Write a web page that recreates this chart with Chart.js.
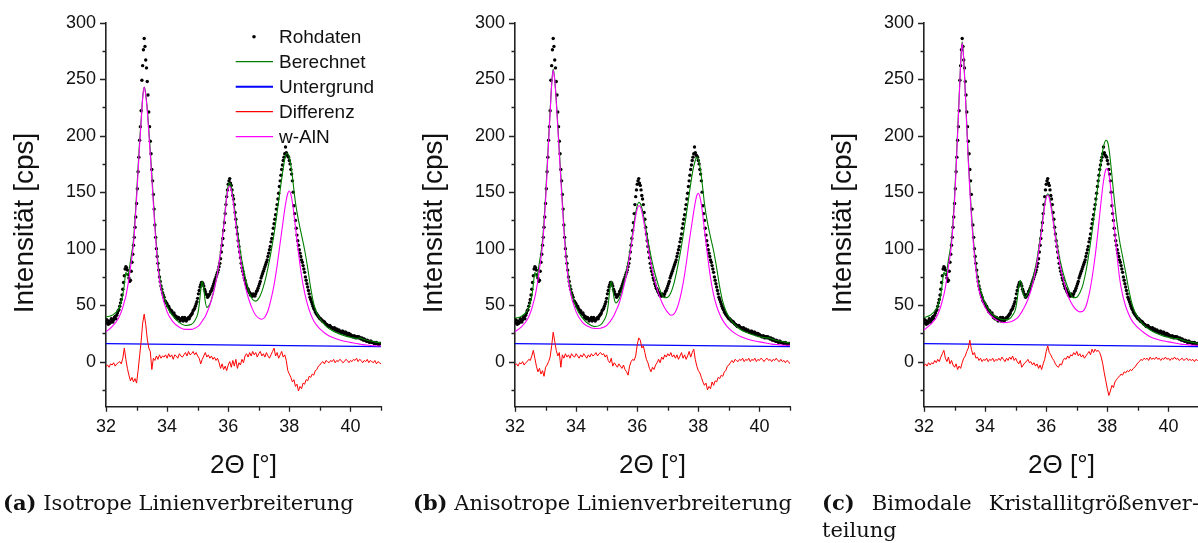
<!DOCTYPE html>
<html><head><meta charset="utf-8">
<script src="https://cdn.jsdelivr.net/npm/chart.js@4.4.0/dist/chart.umd.min.js"></script>
<style>
html,body{margin:0;padding:0}
body{width:1198px;height:543px;overflow:hidden;background:#fff;position:relative}
canvas{position:absolute;top:0}
.cap{position:absolute;font-family:'DejaVu Serif',serif;font-size:21px;line-height:27px;color:#111;white-space:nowrap}
.cap b{font-weight:bold}
</style></head><body>
<canvas id="pa" width="409" height="490" style="left:0px"></canvas>
<canvas id="pb" width="409" height="490" style="left:409px"></canvas>
<canvas id="pc" width="409" height="490" style="left:818px"></canvas>
<div class="cap" style="left:3px;top:489px"><b>(a)</b> Isotrope Linienverbreiterung</div>
<div class="cap" style="left:413px;top:489px"><b>(b)</b> Anisotrope Linienverbreiterung</div>
<div class="cap" style="left:822px;top:489px;width:377px;white-space:normal">
<div style="text-align:justify;text-align-last:justify"><b>(c)</b> Bimodale Kristallitgrößenver-</div>
<div>teilung</div></div>
<script>
// ---------- texts ----------
const seriesNames = ['Rohdaten','Berechnet','Untergrund','Differenz','w-AlN'];
const xTitle = '2\u0398 [\u00b0]';
const yTitle = 'Intensit\u00e4t [cps]';
// ---------- ticks ----------
const xTickVals = [32,33,34,35,36,37,38,39,40,41];
const xTickLabels = [32,34,36,38,40];
const yTickVals = [-25,0,25,50,75,100,125,150,175,200,225,250,275,300];
const yTickLabels = [0,50,100,150,200,250,300];

// ---------- raw data (2Theta, cps), one row per degree ----------
const rawX = [
32,32.025,32.05,32.075,32.1,32.125,32.15,32.175,32.2,32.225,32.25,32.275,32.3,32.325,32.35,32.375,32.4,32.425,32.45,32.475,32.5,32.525,32.55,32.575,32.6,32.625,32.65,32.675,32.7,32.725,32.75,32.775,32.8,32.825,32.85,32.875,32.9,32.925,32.95,32.975,
33,33.025,33.05,33.075,33.1,33.125,33.15,33.175,33.2,33.225,33.25,33.275,33.3,33.325,33.35,33.375,33.4,33.425,33.45,33.475,33.5,33.525,33.55,33.575,33.6,33.625,33.65,33.675,33.7,33.725,33.75,33.775,33.8,33.825,33.85,33.875,33.9,33.925,33.95,33.975,
34,34.025,34.05,34.075,34.1,34.125,34.15,34.175,34.2,34.225,34.25,34.275,34.3,34.325,34.35,34.375,34.4,34.425,34.45,34.475,34.5,34.525,34.55,34.575,34.6,34.625,34.65,34.675,34.7,34.725,34.75,34.775,34.8,34.825,34.85,34.875,34.9,34.925,34.95,34.975,
35,35.025,35.05,35.075,35.1,35.125,35.15,35.175,35.2,35.225,35.25,35.275,35.3,35.325,35.35,35.375,35.4,35.425,35.45,35.475,35.5,35.525,35.55,35.575,35.6,35.625,35.65,35.675,35.7,35.725,35.75,35.775,35.8,35.825,35.85,35.875,35.9,35.925,35.95,35.975,
36,36.025,36.05,36.075,36.1,36.125,36.15,36.175,36.2,36.225,36.25,36.275,36.3,36.325,36.35,36.375,36.4,36.425,36.45,36.475,36.5,36.525,36.55,36.575,36.6,36.625,36.65,36.675,36.7,36.725,36.75,36.775,36.8,36.825,36.85,36.875,36.9,36.925,36.95,36.975,
37,37.025,37.05,37.075,37.1,37.125,37.15,37.175,37.2,37.225,37.25,37.275,37.3,37.325,37.35,37.375,37.4,37.425,37.45,37.475,37.5,37.525,37.55,37.575,37.6,37.625,37.65,37.675,37.7,37.725,37.75,37.775,37.8,37.825,37.85,37.875,37.9,37.925,37.95,37.975,
38,38.025,38.05,38.075,38.1,38.125,38.15,38.175,38.2,38.225,38.25,38.275,38.3,38.325,38.35,38.375,38.4,38.425,38.45,38.475,38.5,38.525,38.55,38.575,38.6,38.625,38.65,38.675,38.7,38.725,38.75,38.775,38.8,38.825,38.85,38.875,38.9,38.925,38.95,38.975,
39,39.025,39.05,39.075,39.1,39.125,39.15,39.175,39.2,39.225,39.25,39.275,39.3,39.325,39.35,39.375,39.4,39.425,39.45,39.475,39.5,39.525,39.55,39.575,39.6,39.625,39.65,39.675,39.7,39.725,39.75,39.775,39.8,39.825,39.85,39.875,39.9,39.925,39.95,39.975,
40,40.025,40.05,40.075,40.1,40.125,40.15,40.175,40.2,40.225,40.25,40.275,40.3,40.325,40.35,40.375,40.4,40.425,40.45,40.475,40.5,40.525,40.55,40.575,40.6,40.625,40.65,40.675,40.7,40.725,40.75,40.775,40.8,40.825,40.85,40.875,40.9,40.925,40.95,40.975,
41];
const rawY = [
35,37,34,33,36,34,35,38,37,35,37,39,40,38,41,43,45,46,49,52,55,59,64,70,76,82,84,83,81,77,74,71,72,80,88,95,103,110,119,128,
140,153,168,181,196,208,222,249,262,276,286,279,267,260,248,236,221,208,195,184,170,160,148,135,121,110,100,93,87,81,75,71,67,64,61,59,57,54,53,52,
51,49,49,47,46,44,45,43,42,43,41,39,40,38,38,39,38,36,37,38,39,36,37,39,38,36,37,38,39,38,40,41,42,43,45,46,47,49,51,53,
56,60,63,66,68,70,70,69,67,64,62,60,59,57,58,59,60,62,63,65,67,69,71,73,75,77,79,81,84,87,91,97,103,109,116,123,131,139,146,152,
157,160,162,158,156,152,147,144,139,132,126,119,113,107,102,97,92,87,83,80,77,74,72,69,67,65,64,62,61,59,60,58,58,60,59,58,60,62,63,65,
67,69,71,74,76,78,80,82,84,86,88,90,93,96,99,102,106,109,113,118,122,126,130,135,139,144,149,155,160,165,170,174,178,181,184,190,185,183,182,181,
178,175,170,166,160,150,138,131,125,118,112,107,103,99,96,93,90,88,85,82,79,75,72,69,66,63,60,57,55,53,51,49,47,46,44,43,42,41,40,39,
38,38,37,36,36,35,35,34,33,33,32,31,31,32,31,30,30,29,29,30,28,28,29,27,27,28,27,26,26,27,27,25,25,26,26,24,24,25,25,23,
24,23,23,22,22,23,22,21,22,22,21,22,21,21,20,21,20,19,20,19,19,18,19,18,18,17,18,18,17,17,17,16,17,16,17,16,16,15,16,16,
16];

// ---------- background ----------
const bgX = [32,41];
const bgY = [16,13.3];

// ---------- fitted curves (shared 2Theta nodes) ----------
const fitX = [32,32.2,32.4,32.5,32.55,32.6,32.65,32.7,32.75,32.8,
32.9,33,33.05,33.1,33.15,33.2,33.25,33.3,33.35,33.4,
33.45,33.5,33.6,33.7,33.8,34,34.2,34.4,34.6,34.8,
34.9,35,35.05,35.1,35.15,35.2,35.25,35.3,35.4,35.5,
35.6,35.7,35.8,35.9,35.95,36,36.05,36.1,36.15,36.2,
36.3,36.4,36.5,36.6,36.7,36.8,36.9,37,37.1,37.2,
37.3,37.4,37.5,37.6,37.7,37.8,37.85,37.9,37.95,38,
38.05,38.1,38.15,38.2,38.3,38.4,38.5,38.6,38.7,38.8,
38.9,39,39.2,39.4,39.6,39.8,40,40.2,40.3,40.4,
40.6,40.8,41];

const calcA = [39.5,41,46,53,59,68,79,76,80,89,
108,148,172,195,214,234,243,237,224,206,
186,166,122,88,68,49,40,34.5,32,33,
36,42,50,63,71,64,53,48,51,60,
72,88,108,134,147,156,158,155,147,137,
116,97,82,69,60,55,53.5,56,62,71,
83,97,113,132,152,171,179,184,184,181,
174,164,152,141,125,112,99,83,65,51,
43,38,31.5,27.5,25,23,21.5,20.5,21,20,
18.5,17.5,16.5];
const alnA = [26.5,31,38,44,48,53,58,65,73,83,
104,144,168,192,212,233,243,236,222,203,
183,162,118,84,64,44,35,30.5,28.5,28.5,
29.5,31,32,34,36,38,40,43,50,59,
71,87,107,132,145,153,155,152,144,133,
110,90,74,62,53,46,41,38.5,37.5,39.5,
45,55,68,85,105,125,135,143,149,151,
148,141,131,119,96,76,61,50,42,36,
32,29,24.5,21.5,19.5,18,17,16,15.5,15,
14.5,14,13.8];

const calcB = [38.5,40,45,52,58,68,79,75,79,88,
107,146,172,198,222,246,259,250,232,210,
187,165,120,87,67,48,39,33.5,31,32.5,
36,42,50,63,71,64,55,52,55,63,
74,88,105,123,132,138,141,140,136,130,
115,100,87,76,67,60,56.5,57,61,69,
81,95,111,129,148,166,173,178,181,179,
173,164,152,140,123,110,98,83,66,53,
45,39.5,32.5,28,25.5,23.5,22,21,21,20,
18.5,17.5,16.5];
const alnB = [26.5,30.5,37,43,47,52,57,64,72,82,
103,142,168,195,220,245,258,249,230,207,
184,161,116,83,63,44,35,31,29.3,29.5,
30.5,32,33.5,35,37,39,41.5,44.5,51,60,
71,85,102,120,129,135,138,137,133,126,
110,94,80,69,60,53,47.5,43.5,41,42,
47,56,69,86,106,124,133,141,147,149,
146,139,129,117,94,74,59,49,42,36.5,
32.5,29.5,25,22,20,18.5,17.5,16.5,16,15.5,
15,14.5,14.5];

const calcC = [39,41,46.5,53,59,69,79,77,81,90,
108,146,174,204,234,265,283,268,240,210,
180,155,114,85,68,52,43,39,37,38,
41,47,55,66,72,67,60,57,60,67,
78,91,109,130,140,146,148.5,146,140,132,
113,97,84,74,66,60,56.5,57,61,68,
80,96,115,136,158,178,187,193,196,195,
189,178,165,151,126,107,93,79,64,52,
44,39,32,28,25,23,21.5,20.5,20.5,19.5,
18,17,16];
const alnC = [28,32.5,39,45,49,54,59,66,74,84,
104,142,170,201,232,264,282,267,238,207,
177,151,110,81,63,48,40.5,36.5,34.5,35,
36,37.5,38.5,40,42,44,46.5,49,55,63,
74,88,106,127,138,145,147.5,145,138,129,
110,93,79,68,59,53,48.5,45.5,44,44.5,
49,59,74,93,117,143,155,164,170,171,
166,156,142,127,99,74,59,49,42,36.5,
33,30,25.5,22,20,18.5,17.5,16.5,16,15.5,
15,14.5,14.5];

// ---------- difference curves (0.05 deg grid) ----------
const diffX = [32,32.05,32.1,32.15,32.2,32.25,32.3,32.35,32.4,32.45,32.5,32.55,32.6,32.65,32.7,32.75,32.8,32.85,32.9,32.95,
33,33.05,33.1,33.15,33.2,33.25,33.3,33.35,33.4,33.45,33.5,33.55,33.6,33.65,33.7,33.75,33.8,33.85,33.9,33.95,
34,34.05,34.1,34.15,34.2,34.25,34.3,34.35,34.4,34.45,34.5,34.55,34.6,34.65,34.7,34.75,34.8,34.85,34.9,34.95,
35,35.05,35.1,35.15,35.2,35.25,35.3,35.35,35.4,35.45,35.5,35.55,35.6,35.65,35.7,35.75,35.8,35.85,35.9,35.95,
36,36.05,36.1,36.15,36.2,36.25,36.3,36.35,36.4,36.45,36.5,36.55,36.6,36.65,36.7,36.75,36.8,36.85,36.9,36.95,
37,37.05,37.1,37.15,37.2,37.25,37.3,37.35,37.4,37.45,37.5,37.55,37.6,37.65,37.7,37.75,37.8,37.85,37.9,37.95,
38,38.05,38.1,38.15,38.2,38.25,38.3,38.35,38.4,38.45,38.5,38.55,38.6,38.65,38.7,38.75,38.8,38.85,38.9,38.95,
39,39.05,39.1,39.15,39.2,39.25,39.3,39.35,39.4,39.45,39.5,39.55,39.6,39.65,39.7,39.75,39.8,39.85,39.9,39.95,
40,40.05,40.1,40.15,40.2,40.25,40.3,40.35,40.4,40.45,40.5,40.55,40.6,40.65,40.7,40.75,40.8,40.85,40.9,40.95,
41];
const diffA = [-4,-3,-5,-2,-3,-1,-4,-2,-1,0,-2,3,12,2,-6,-12,-17,-14,-18,-15,
-19,-8,5,18,34,42,33,20,12,9,-7,3,1,5,2,6,3,5,4,6,
3,7,4,6,2,6,5,3,7,5,4,6,8,5,9,6,7,9,6,8,
5,3,-2,2,5,8,4,6,3,5,2,4,1,3,-1,-6,-2,-7,-4,-8,
-3,0,-5,1,-4,2,-6,-1,-3,2,-1,5,7,4,8,5,9,6,8,4,
7,9,5,7,4,8,5,3,6,9,12,5,8,3,6,9,4,6,1,-8,
-11,-14,-18,-16,-22,-20,-26,-22,-24,-19,-20,-16,-17,-13,-14,-11,-12,-8,-7,-4,
-3,-1,0,-2,1,0,-1,1,0,2,-1,1,0,2,1,-1,0,2,1,-1,
1,0,2,1,3,0,2,1,-1,1,0,2,-1,1,0,-1,1,-2,0,-1,
-2];
const diffB = [-3,-2,-4,-1,-2,0,-3,-1,0,2,1,5,10,3,-4,-9,-6,-11,-8,-13,
-5,-3,0,4,14,26,18,10,5,8,-5,6,3,7,4,6,3,7,5,4,
7,5,3,6,4,7,5,3,6,4,7,5,6,8,5,7,8,6,7,4,
6,1,-1,3,-4,-1,-3,-5,-2,-4,-6,-3,-7,-9,-12,-4,0,2,1,5,
15,21,19,12,14,8,2,-1,-6,-9,-5,-7,-3,-1,2,-1,4,2,6,4,
7,5,8,4,6,3,6,2,5,8,3,6,2,5,9,4,8,11,2,-4,
-8,-10,-14,-18,-21,-19,-25,-22,-24,-18,-21,-17,-18,-14,-15,-12,-13,-9,-8,-4,
-3,-1,1,-1,2,1,0,2,1,3,0,2,1,3,0,2,1,3,0,2,
1,3,2,0,2,3,1,2,0,2,1,3,1,0,2,0,1,-1,1,0,
-2];
const diffC = [-4,-2,-4,-1,-3,-1,-2,1,-1,2,0,4,7,10,3,0,4,-2,1,-3,
-5,-2,-7,-4,-6,-1,3,5,9,12,19,11,6,8,3,4,1,3,0,2,
1,3,0,2,1,3,0,2,1,3,1,4,2,0,3,1,4,2,5,1,
3,0,-2,1,-5,-3,-1,0,2,-1,0,-3,-1,-4,-2,-6,-3,-7,-2,2,
9,14,8,6,3,1,-2,-4,-5,-2,-3,1,3,2,5,3,6,5,8,6,
9,5,7,4,6,3,5,7,9,6,11,8,11,9,10,8,4,-2,-10,-17,
-24,-30,-26,-21,-23,-18,-16,-14,-13,-11,-12,-9,-10,-8,-9,-7,-8,-6,-5,-3,
-1,0,2,1,3,2,3,1,4,2,3,2,4,2,3,1,3,2,4,2,
3,1,3,2,4,2,3,1,2,3,1,2,3,1,2,1,2,0,2,1,
2];

// ---------- rendering ----------
const FONT = "'Liberation Sans', Arial, sans-serif";
const pts = (xs, ys) => xs.map((x, i) => ({x: x, y: ys[i]}));

const decor = {
  id: 'decor',
  afterDraw(chart, args, opts) {
    const ctx = chart.ctx, xs = chart.scales.x, ys = chart.scales.y;
    const L = chart.chartArea.left, B = chart.chartArea.bottom;
    ctx.save();
    ctx.strokeStyle = '#222'; ctx.lineWidth = 1.3;
    ctx.beginPath();
    yTickVals.forEach(v => {
      const p = Math.round(ys.getPixelForValue(v)) + 0.5;
      const len = (v % 50 === 0) ? 6 : 3.5;
      ctx.moveTo(L, p); ctx.lineTo(L - len, p);
    });
    xTickVals.forEach(v => {
      const p = Math.round(xs.getPixelForValue(v)) + 0.5;
      const len = (v % 2 === 0) ? 5 : 4;
      ctx.moveTo(p, B); ctx.lineTo(p, B + len);
    });
    ctx.stroke();
    ctx.fillStyle = '#111';
    ctx.font = '26px ' + FONT;
    ctx.textAlign = 'center'; ctx.textBaseline = 'alphabetic';
    ctx.fillText(xTitle, (chart.chartArea.left + chart.chartArea.right) / 2, 473);
    ctx.save();
    ctx.translate(33, 223);
    ctx.rotate(-Math.PI / 2);
    ctx.font = '28px ' + FONT;
    ctx.fillText(yTitle, 0, 0);
    ctx.restore();
    if (opts.legend) {
      const ds = chart.data.datasets;
      ctx.font = '19px ' + FONT;
      ctx.textAlign = 'left'; ctx.textBaseline = 'middle';
      [0,1,2,3,4].forEach((k, i) => {
        const d = ds.find(s => s.label === seriesNames[k]);
        const y = 36.7 + 25 * i;
        if (k === 0) {
          ctx.fillStyle = '#000';
          ctx.beginPath(); ctx.arc(254, y, 1.8, 0, Math.PI * 2); ctx.fill();
        } else {
          ctx.strokeStyle = d.borderColor; ctx.lineWidth = (k === 2) ? 2 : 1.2;
          ctx.beginPath(); ctx.moveTo(235.7, y); ctx.lineTo(273, y); ctx.stroke();
        }
        ctx.fillStyle = '#111';
        ctx.fillText(d.label, 279, y + 1);
      });
    }
    ctx.restore();
  }
};

function makePanel(id, calc, aln, diff, legend) {
  new Chart(document.getElementById(id), {
    type: 'scatter',
    data: {
      datasets: [
        {label: seriesNames[0], data: pts(rawX, rawY), showLine: false, pointRadius: 1.7,
         pointBackgroundColor: '#000', pointBorderWidth: 0, order: 5},
        {label: seriesNames[1], data: pts(fitX, calc), showLine: true, borderColor: '#008000',
         borderWidth: 1.1, pointRadius: 0, cubicInterpolationMode: 'monotone', fill: false, order: 4},
        {label: seriesNames[2], data: pts(bgX, bgY), showLine: true, borderColor: '#0000ff',
         borderWidth: 1.2, pointRadius: 0, fill: false, order: 3},
        {label: seriesNames[3], data: pts(diffX, diff), showLine: true, borderColor: '#ff0000',
         borderWidth: 1, pointRadius: 0, tension: 0, fill: false, order: 2},
        {label: seriesNames[4], data: pts(fitX, aln), showLine: true, borderColor: '#ff00ff',
         borderWidth: 1.1, pointRadius: 0, cubicInterpolationMode: 'monotone', fill: false, order: 1}
      ]
    },
    options: {
      responsive: false, animation: false, devicePixelRatio: 1, events: [],
      layout: {padding: {top: 22.7, left: 0, right: 28, bottom: 0}},
      plugins: {legend: {display: false}, tooltip: {enabled: false}, decor: {legend: legend}},
      scales: {
        x: {
          type: 'linear', min: 32, max: 41,
          afterBuildTicks: s => { s.ticks = xTickVals.map(v => ({value: v})); },
          afterFit: s => { s.height = 83.2; },
          grid: {display: false, drawTicks: false},
          border: {display: true, color: '#222', width: 1.6},
          ticks: {autoSkip: false, maxRotation: 0, padding: 9, color: '#111',
                  font: {family: FONT, size: 18},
                  callback: v => xTickLabels.includes(v) ? String(v) : ''}
        },
        y: {
          type: 'linear', min: -40, max: 300,
          afterBuildTicks: s => { s.ticks = yTickVals.map(v => ({value: v})); },
          afterFit: s => { s.width = 106; },
          grid: {display: false, drawTicks: false},
          border: {display: true, color: '#222', width: 1.6},
          ticks: {autoSkip: false, padding: 10, color: '#111',
                  font: {family: FONT, size: 18},
                  callback: v => yTickLabels.includes(v) ? String(v) : ''}
        }
      }
    },
    plugins: [decor]
  });
}

makePanel('pa', calcA, alnA, diffA, true);
makePanel('pb', calcB, alnB, diffB, false);
makePanel('pc', calcC, alnC, diffC, false);
</script>
</body></html>
